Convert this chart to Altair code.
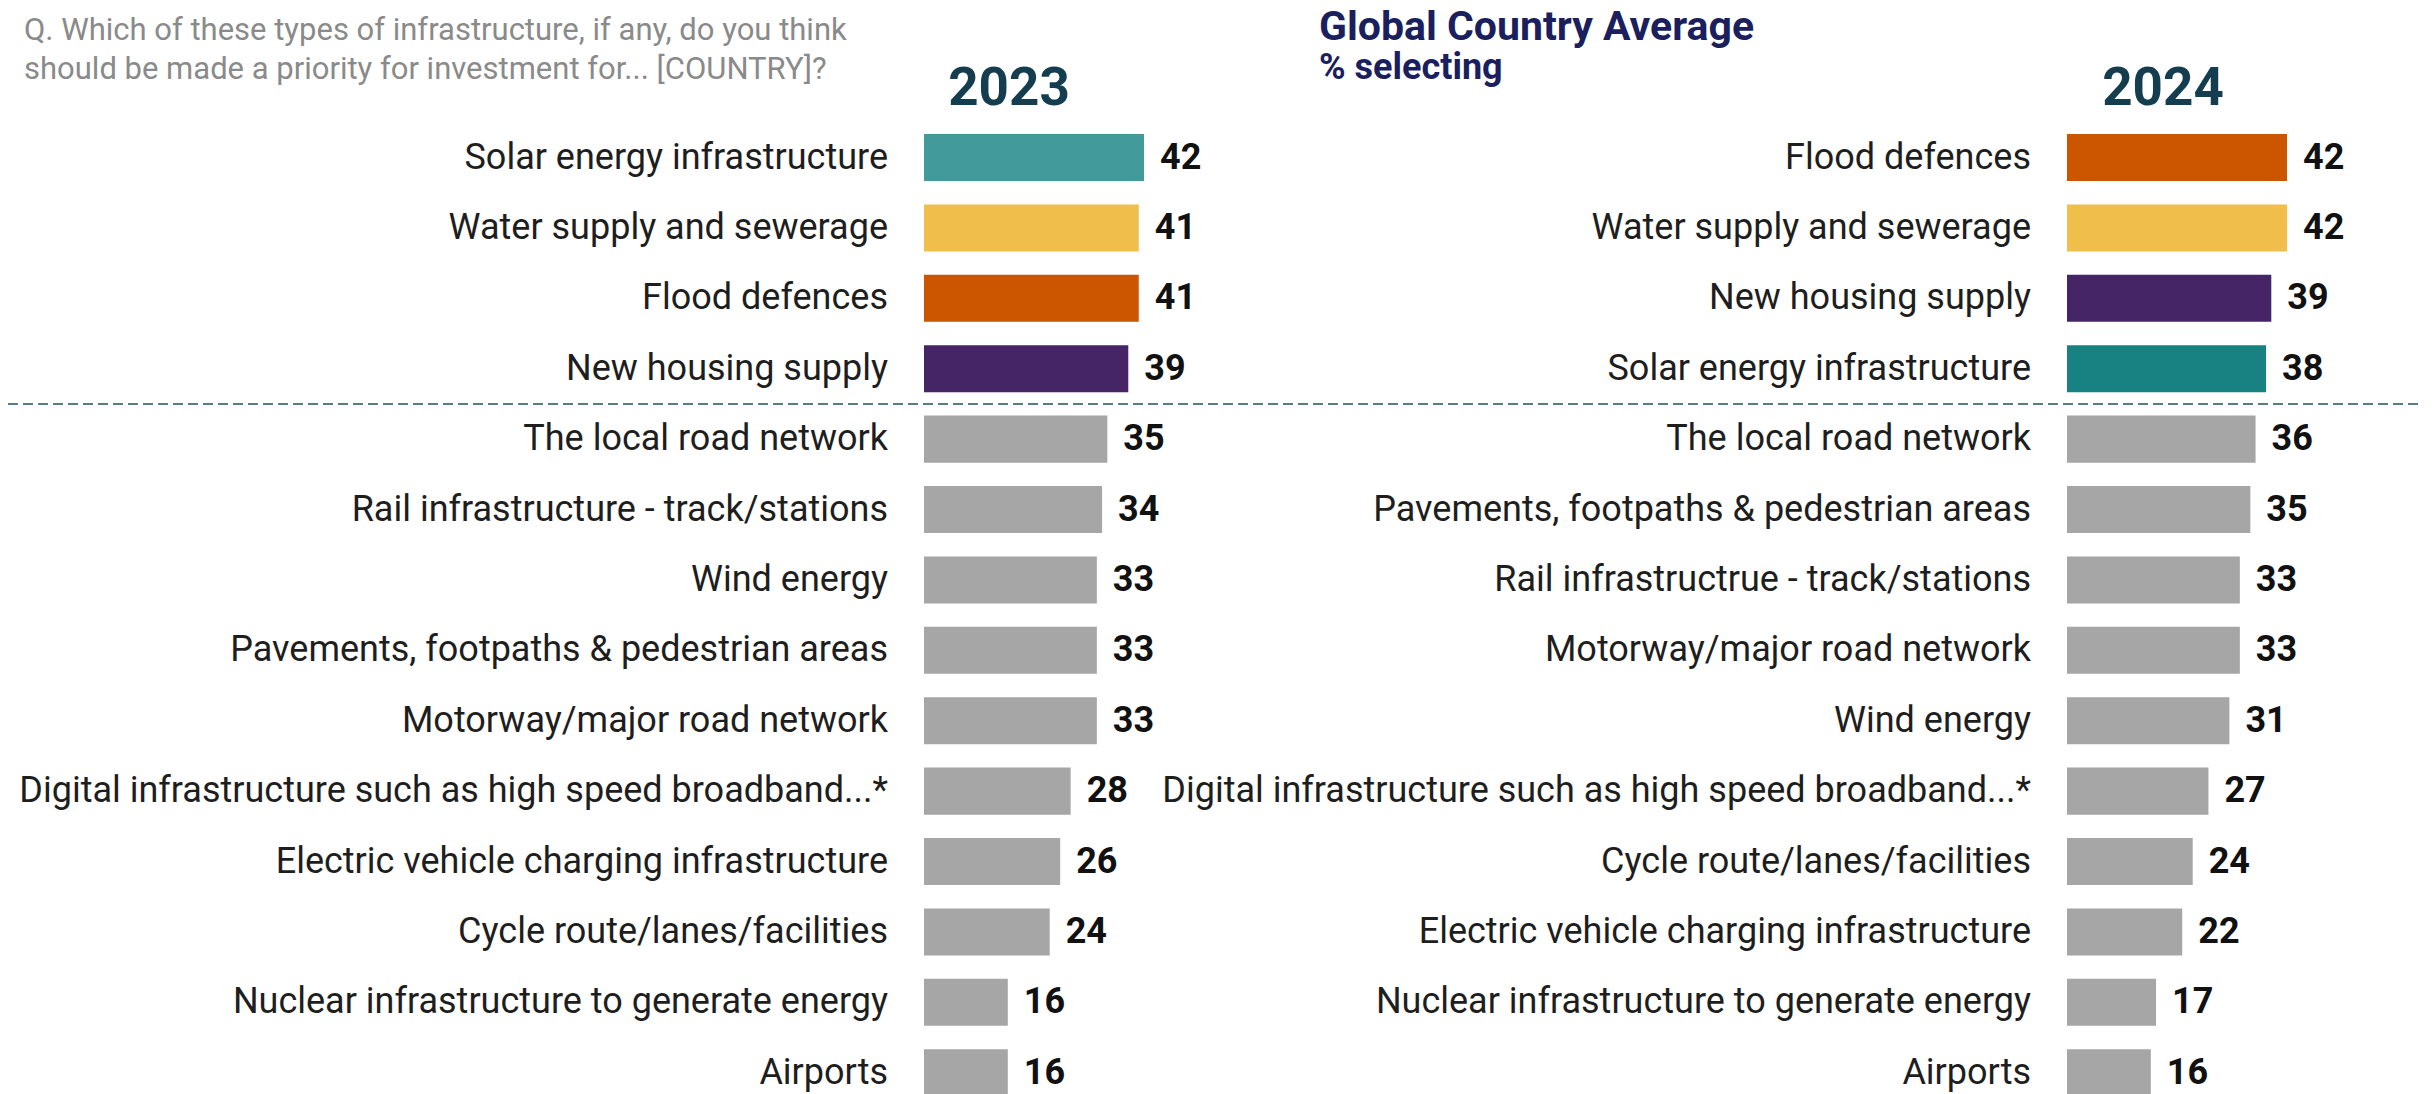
import altair as alt
import pandas as pd

# ---------------- data ----------------
categories_2023 = [
    "Solar energy infrastructure",
    "Water supply and sewerage",
    "Flood defences",
    "New housing supply",
    "The local road network",
    "Rail infrastructure - track/stations",
    "Wind energy",
    "Pavements, footpaths & pedestrian areas",
    "Motorway/major road network",
    "Digital infrastructure such as high speed broadband...*",
    "Electric vehicle charging infrastructure",
    "Cycle route/lanes/facilities",
    "Nuclear infrastructure to generate energy",
    "Airports",
]
values_2023 = [42, 41, 41, 39, 35, 34, 33, 33, 33, 28, 26, 24, 16, 16]

categories_2024 = [
    "Flood defences",
    "Water supply and sewerage",
    "New housing supply",
    "Solar energy infrastructure",
    "The local road network",
    "Pavements, footpaths & pedestrian areas",
    "Rail infrastructrue - track/stations",
    "Motorway/major road network",
    "Wind energy",
    "Digital infrastructure such as high speed broadband...*",
    "Cycle route/lanes/facilities",
    "Electric vehicle charging infrastructure",
    "Nuclear infrastructure to generate energy",
    "Airports",
]
values_2024 = [42, 42, 39, 38, 36, 35, 33, 33, 31, 27, 24, 22, 17, 16]

highlight = ["Solar energy infrastructure", "Water supply and sewerage",
             "Flood defences", "New housing supply"]

question_lines = ["Q. Which of these types of infrastructure, if any, do you think",
                  "should be made a priority for investment for... [COUNTRY]?"]
main_title = "Global Country Average"
sub_title = "% selecting"
years = ["2023", "2024"]

# ---------------- styling ----------------
FONT = "Roboto"
W, H = 2415, 1086
STEP = 70.4
Y0 = 126
PAD_INNER = 0.332
N = len(categories_2023)
y_range = [Y0, Y0 + STEP * (N - PAD_INNER)]
PX_PER_UNIT = 220 / 42

colors_2023 = ["#439A9A", "#F0BE4A", "#CC5500", "#452565", "#A6A6A6"]
colors_2024 = ["#188282", "#F0BE4A", "#CC5500", "#452565", "#A6A6A6"]
color_domain = highlight + ["Other"]


def frame(cats, vals):
    df = pd.DataFrame({"category": cats, "value": vals})
    df["rank"] = list(range(len(cats)))
    df["group"] = df["category"].where(df["category"].isin(highlight), "Other")
    return df


def panel(df, x_start, colors):
    xs = alt.Scale(domain=[0, 100], range=[x_start, x_start + 100 * PX_PER_UNIT],
                   nice=False, zero=True)
    ys = alt.Scale(range=y_range, paddingInner=PAD_INNER, paddingOuter=0)
    y = alt.Y("rank:O", axis=None, scale=ys)
    base = alt.Chart(df)
    bars = base.mark_bar().encode(
        x=alt.X("value:Q", axis=None, scale=xs),
        y=y,
        color=alt.Color("group:N", legend=None,
                        scale=alt.Scale(domain=color_domain, range=colors)),
    )
    cat_labels = base.mark_text(align="right", baseline="middle", dx=-36,
                                font=FONT, fontSize=36, color="#1e1e1e").encode(
        x=alt.XDatum(0, type="quantitative", scale=xs, axis=None),
        y=y,
        text="category:N",
    )
    val_labels = base.mark_text(align="left", baseline="middle", dx=16,
                                font=FONT, fontSize=36, fontWeight="bold",
                                color="#111111").encode(
        x=alt.X("value:Q", axis=None, scale=xs),
        y=y,
        text="value:Q",
    )
    return alt.layer(bars, cat_labels, val_labels)


left = panel(frame(categories_2023, values_2023), 916, colors_2023)
right = panel(frame(categories_2024, values_2024), 2059, colors_2024)

one = alt.Data(values=[{}])

divider = alt.Chart(one).mark_rule(color="#5B7B89", strokeWidth=2,
                                   strokeDash=[10, 5]).encode(
    x=alt.value(0), x2=alt.value(2416), y=alt.value(396))

question = alt.Chart(one).mark_text(
    text=question_lines, align="left", baseline="alphabetic", lineHeight=39,
    font=FONT, fontSize=31, color="#8A8A8A").encode(
    x=alt.value(16), y=alt.value(32))

title1 = alt.Chart(one).mark_text(
    text=main_title, align="left", baseline="alphabetic",
    font=FONT, fontSize=41, fontWeight="bold", color="#1B1F5E").encode(
    x=alt.value(1311), y=alt.value(32))

title2 = alt.Chart(one).mark_text(
    text=sub_title, align="left", baseline="alphabetic",
    font=FONT, fontSize=36, fontWeight="bold", color="#1B1F5E").encode(
    x=alt.value(1311), y=alt.value(71))

year1 = alt.Chart(one).mark_text(
    text=years[0], align="center", baseline="alphabetic",
    font=FONT, fontSize=53, fontWeight="bold", color="#143D4F").encode(
    x=alt.value(1001), y=alt.value(97))

year2 = alt.Chart(one).mark_text(
    text=years[1], align="center", baseline="alphabetic",
    font=FONT, fontSize=53, fontWeight="bold", color="#143D4F").encode(
    x=alt.value(2155), y=alt.value(97))

chart = alt.layer(
    divider, left, right, question, title1, title2, year1, year2
).resolve_scale(
    x="independent", color="independent"
).properties(
    width=W, height=H, autosize=alt.AutoSizeParams(type="none"), padding=0
).configure_view(stroke=None)

chart.save("out.html", embed_options={"renderer": "svg", "actions": False})
